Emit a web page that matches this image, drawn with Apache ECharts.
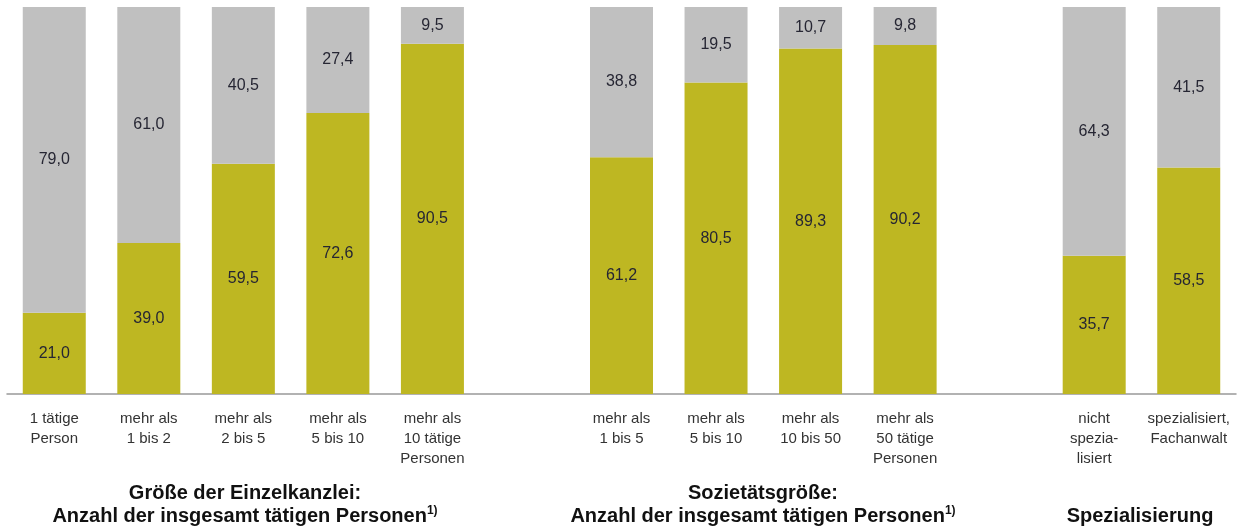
<!DOCTYPE html>
<html style="height: 100%">
<head>
    <meta charset="utf-8">
</head>
<body style="height: 100%; margin: 0; background: #fff">
<div id="container" style="width: 1240px; height: 529px"></div>
<script type="text/javascript" src="https://cdn.jsdelivr.net/npm/echarts@6/dist/echarts.min.js"></script>
<script type="text/javascript">
// categories (empty strings are the gaps between the groups)
var categories = [
    '1 tätige\nPerson', 'mehr als\n1 bis 2', 'mehr als\n2 bis 5', 'mehr als\n5 bis 10', 'mehr als\n10 tätige\nPersonen',
    '',
    'mehr als\n1 bis 5', 'mehr als\n5 bis 10', 'mehr als\n10 bis 50', 'mehr als\n50 tätige\nPersonen',
    '',
    'nicht\nspezia-\nlisiert', 'spezialisiert,\nFachanwalt'
];
var olive = [21.0, 39.0, 59.5, 72.6, 90.5, null, 61.2, 80.5, 89.3, 90.2, null, 35.7, 58.5];
var grey = [79.0, 61.0, 40.5, 27.4, 9.5, null, 38.8, 19.5, 10.7, 9.8, null, 64.3, 41.5];
var groupTitles = [
    'Größe der Einzelkanzlei:\nAnzahl der insgesamt tätigen Personen{sup|1)}',
    'Sozietätsgröße:\nAnzahl der insgesamt tätigen Personen{sup|1)}',
    'Spezialisierung'
];

var dom = document.getElementById('container');
var myChart = echarts.init(dom);

function fmt(p) {
    if (p.value == null) return '';
    return p.value.toFixed(1).replace('.', ',');
}

var valueLabel = {
    show: true,
    position: 'inside',
    formatter: fmt,
    color: '#262633',
    fontSize: 16,
    fontFamily: 'Liberation Sans, Arial, sans-serif'
};

var titleStyle = {
    fontSize: 20,
    fontWeight: 'bold',
    color: '#111',
    lineHeight: 23,
    fontFamily: 'Liberation Sans, Arial, sans-serif',
    rich: {
        sup: {
            fontSize: 12,
            fontWeight: 'bold',
            color: '#111',
            verticalAlign: 'top',
            lineHeight: 23,
            fontFamily: 'Liberation Sans, Arial, sans-serif'
        }
    }
};

var option = {
    animation: false,
    title: [
        {text: groupTitles[0], left: 245, top: 482, textAlign: 'center', padding: 0, textStyle: titleStyle},
        {text: groupTitles[1], left: 763, top: 482, textAlign: 'center', padding: 0, textStyle: titleStyle},
        {text: groupTitles[2], left: 1140, top: 505, textAlign: 'center', padding: 0, textStyle: titleStyle}
    ],
    grid: {
        left: 7,
        right: 4,
        top: 7,
        bottom: 135,
        containLabel: false
    },
    xAxis: {
        type: 'category',
        data: categories,
        axisTick: {show: false},
        axisLine: {lineStyle: {color: '#999', width: 1.5}},
        axisLabel: {
            interval: 0,
            margin: 15,
            fontSize: 15,
            lineHeight: 20,
            color: '#333',
            fontFamily: 'Liberation Sans, Arial, sans-serif'
        }
    },
    yAxis: {
        type: 'value',
        min: 0,
        max: 100,
        show: false,
        splitLine: {show: false}
    },
    series: [
        {
            name: 'olive',
            type: 'bar',
            stack: 'total',
            barWidth: 63,
            data: olive,
            itemStyle: {color: '#beb722'},
            label: valueLabel
        },
        {
            name: 'grey',
            type: 'bar',
            stack: 'total',
            barWidth: 63,
            data: grey,
            itemStyle: {color: '#c0c0c0'},
            label: valueLabel
        }
    ]
};

myChart.setOption(option, true);
</script>
</body>
</html>
